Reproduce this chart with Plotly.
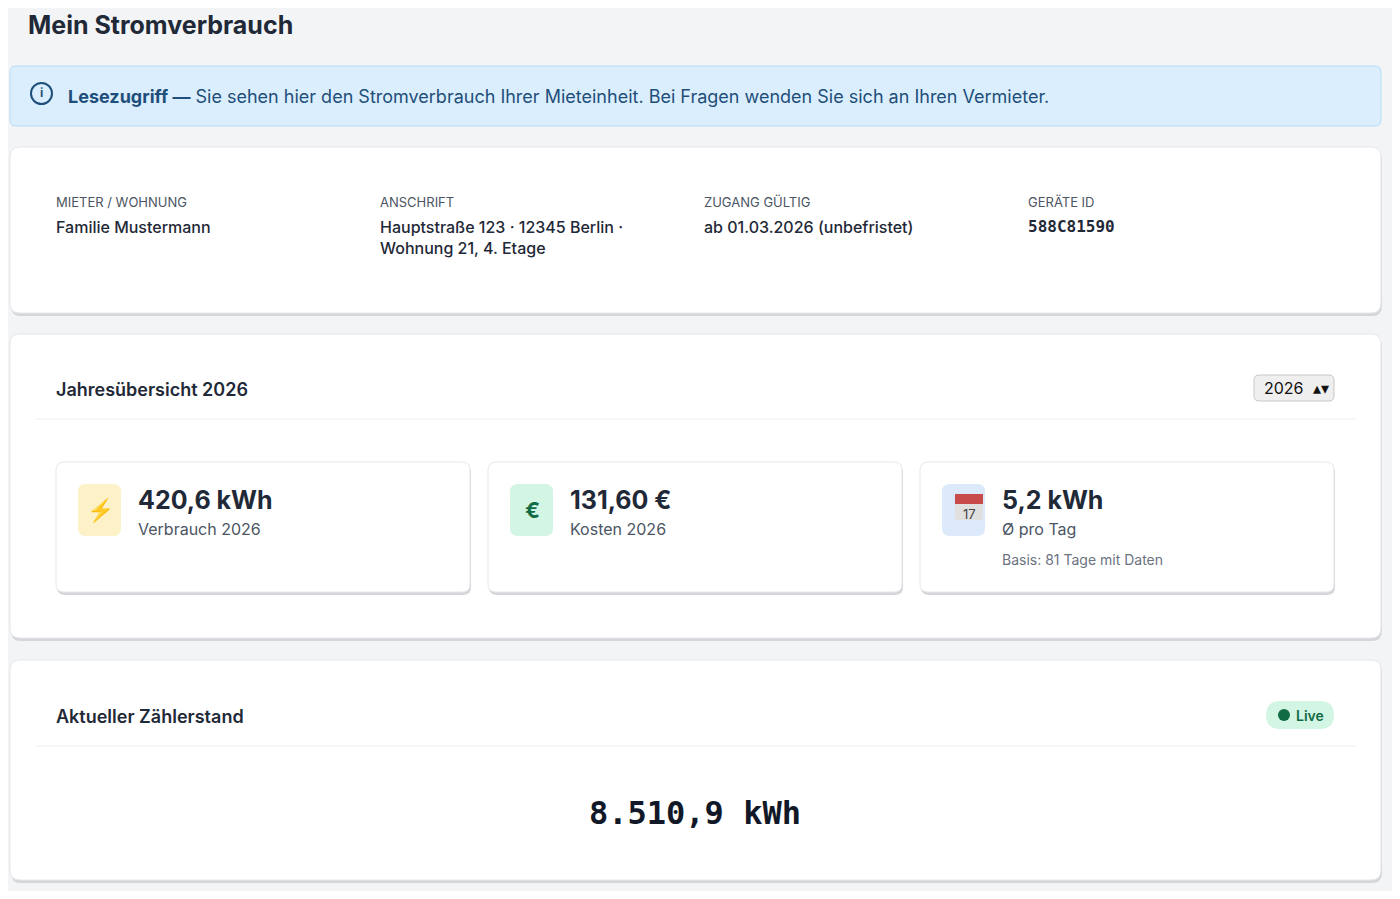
import plotly.graph_objects as go

# data
info_labels = ["MIETER / WOHNUNG", "ANSCHRIFT", "ZUGANG GÜLTIG", "GERÄTE ID"]
info_values = ["Familie Mustermann", "Hauptstraße 123 · 12345 Berlin ·<br>Wohnung 21, 4. Etage",
               "ab 01.03.2026 (unbefristet)", "588C81590"]
kpi_values = ["420,6 kWh", "131,60 €", "5,2 kWh"]
kpi_labels = ["Verbrauch 2026", "Kosten 2026", "Ø pro Tag"]
kpi_notes = ["", "", "Basis: 81 Tage mit Daten"]
kpi_icons = ["⚡", "€", "17"]
year = "2026"
meter_reading = "8.510,9 kWh"

W, H = 1400, 899
OFF = 8  # the page body has an 8px margin
FONT = "Inter"
DARK = "#1f2937"
GREY = "#4b5563"

fig = go.Figure()
shapes = []
ann = []


def rrect(x0, y0, x1, y1, r, fill, line="rgba(0,0,0,0)", lw=1):
    p = (f"M{x0+r},{y0} L{x1-r},{y0} Q{x1},{y0} {x1},{y0+r} L{x1},{y1-r} Q{x1},{y1} {x1-r},{y1} "
         f"L{x0+r},{y1} Q{x0},{y1} {x0},{y1-r} L{x0},{y0+r} Q{x0},{y0} {x0+r},{y0} Z")
    shapes.append(dict(type="path", path=p, fillcolor=fill, line=dict(color=line, width=lw), layer="below"))


def text(x, y, s, size, color=DARK, weight="normal", xanchor="left", family=FONT):
    ann.append(dict(x=x, y=y, text=s, showarrow=False, xanchor=xanchor, yanchor="middle", align="left",
                    font=dict(size=size, color=color, family=family, weight=weight)))


def card(x0, y0, x1, y1, r=10):
    rrect(x0 + 1, y0 + 3, x1 + 1, y1 + 3, r, "#d4d6da")
    rrect(x0, y0, x1, y1, r, "white", "#e5e7eb")


ann.append(dict(x=26, y=OFF, text="Mein Stromverbrauch", showarrow=False, xanchor="left", yanchor="top",
                font=dict(size=25, color=DARK, family=FONT, weight="bold")))

# info banner
rrect(10, 66, 1381, 126, 6, "#dbeefd", "#b6dcf5")
shapes.append(dict(type="circle", x0=31, y0=83, x1=52, y1=104, line=dict(color="#1e4f7a", width=2)))
text(41.5, 92, "i", 12, "#1e4f7a", "bold", "center")
text(66, 96, "<b>Lesezugriff —</b> Sie sehen hier den Stromverbrauch Ihrer Mieteinheit. Bei Fragen wenden Sie sich an Ihren Vermieter.",
     18, "#1e4f7a")

# tenant card
card(10, 147, 1381, 313)
for i, (lab, val) in enumerate(zip(info_labels, info_values)):
    x = 54 + i * 324
    text(x, 202, lab, 13, GREY)
    fam = "DejaVu Sans Mono" if i == 3 else FONT
    ann.append(dict(x=x, y=215, text=val, showarrow=False, xanchor="left", yanchor="top", align="left",
                    font=dict(size=16, color=DARK, family=fam, weight="bold" if i == 3 else 500)))

# year overview card
card(10, 334, 1381, 638)
text(54, 389, "Jahresübersicht " + year, 18, DARK, 600)
rrect(1254, 375, 1334, 401, 5, "#efefef", "#c8c8c8")
text(1262, 388, year + "  ▴▾", 16, "#111")
shapes.append(dict(type="line", x0=35, x1=1356, y0=419, y1=419, line=dict(color="#eceef1", width=1)))

icon_bg = ["#fdf1c7", "#d3f5e3", "#dbe9fb"]
icon_col = ["#f0b429", "#116b45", "#555"]
for i in range(3):
    x0 = 56 + i * 432
    card(x0, 462, x0 + 414, 592, 8)
    rrect(x0 + 22, 484, x0 + 65, 536, 8, icon_bg[i])
    if i == 2:
        rrect(x0 + 35, 494, x0 + 63, 520, 2, "#e0e0e0")
        shapes.append(dict(type="rect", x0=x0 + 35, x1=x0 + 63, y0=494, y1=504, fillcolor="#c94a4a",
                           line=dict(width=0)))
        text(x0 + 49, 514, kpi_icons[i], 13, "#444", "normal", "center")
    else:
        text(x0 + 44, 510, kpi_icons[i], 22, icon_col[i], "bold", "center")
    text(x0 + 80, 500, kpi_values[i], 25, DARK, "bold")
    text(x0 + 80, 529, kpi_labels[i], 16, GREY)
    if kpi_notes[i]:
        text(x0 + 80, 559, kpi_notes[i], 14, "#6b7280")

# meter card
card(10, 660, 1381, 880)
text(54, 716, "Aktueller Zählerstand", 18, DARK, 600)
rrect(1266, 701, 1334, 729, 14, "#d3f5e3")
shapes.append(dict(type="circle", x0=1278, y0=709, x1=1290, y1=721, fillcolor="#116b45", line=dict(width=0)))
text(1294, 715, "Live", 14, "#116b45", 600)
shapes.append(dict(type="line", x0=35, x1=1356, y0=746, y1=746, line=dict(color="#eceef1", width=1)))
text(695, 813, meter_reading, 32, "#111827", "bold", "center", "DejaVu Sans Mono")

fig.update_layout(
    width=W - 2 * OFF, height=H - 2 * OFF, margin=dict(l=0, r=0, t=0, b=0),
    paper_bgcolor="#f3f4f6", plot_bgcolor="#f3f4f6",
    xaxis=dict(range=[OFF, W - OFF], visible=False, fixedrange=True),
    yaxis=dict(range=[H - OFF, OFF], visible=False, fixedrange=True),
    shapes=shapes, annotations=ann, showlegend=False,
)
fig.write_html("out.html", config={"displayModeBar": False})
